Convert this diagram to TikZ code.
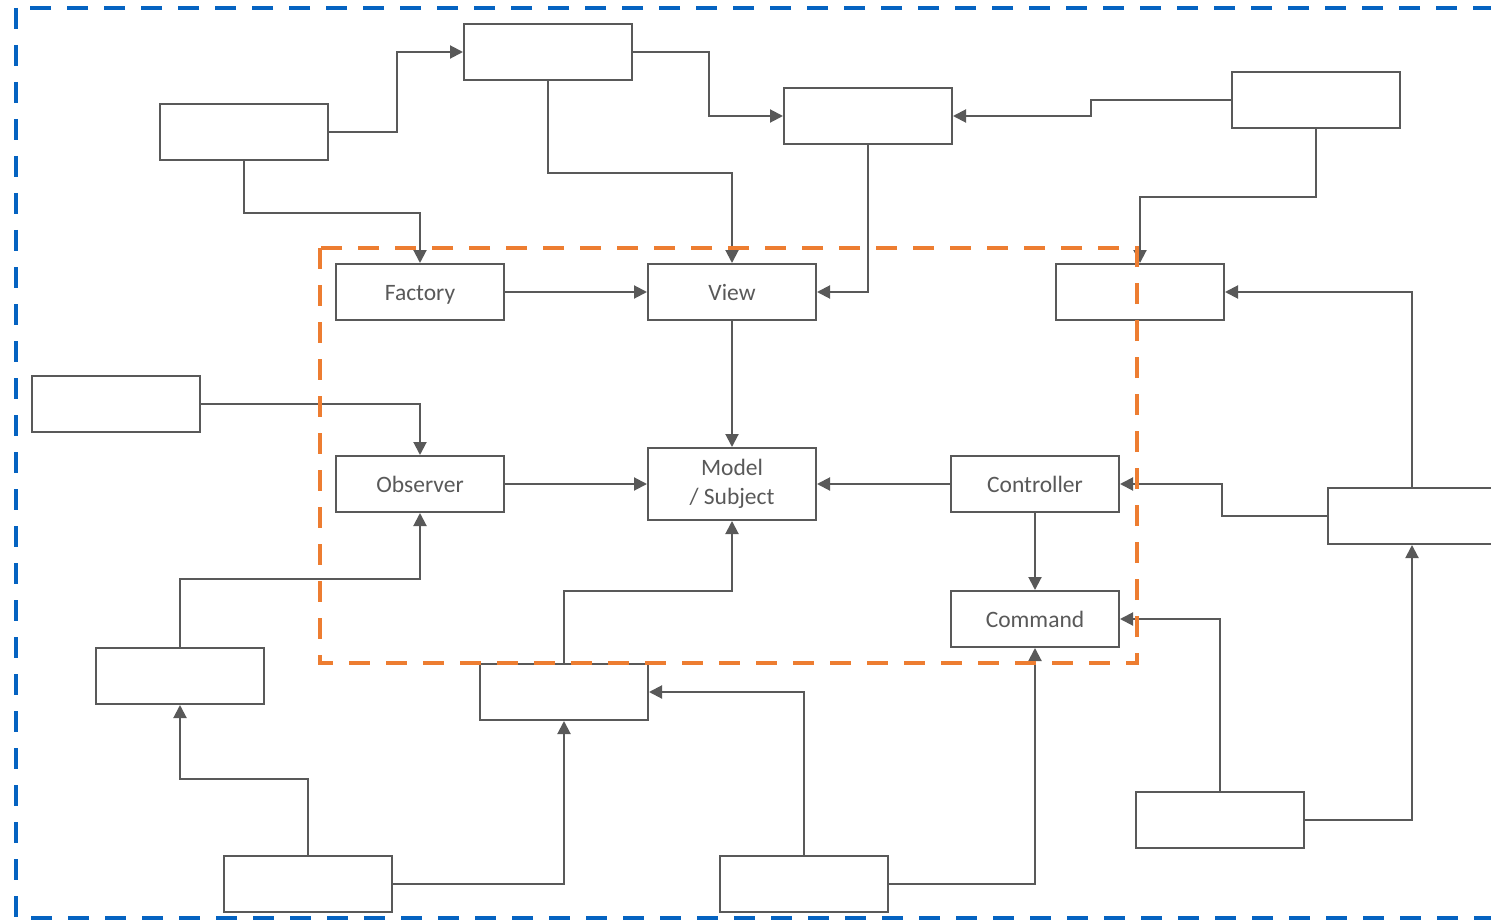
\documentclass[tikz,border=0pt]{standalone}
\usepackage{fontspec}
\setmainfont{Carlito}
\usetikzlibrary{arrows.meta}
\definecolor{ln}{HTML}{595959}
\definecolor{bl}{HTML}{0563C1}
\definecolor{og}{HTML}{ED7D31}
\tikzset{
  box/.style={draw=ln, line width=2pt, fill=white, minimum width=168pt, minimum height=56pt, inner sep=0pt, text=ln, font=\fontsize{23.5}{29}\selectfont, align=center},
  oneline/.style={box, text height=17pt, text depth=1pt},
  conn/.style={draw=ln, line width=2pt, -{Triangle[length=13pt,width=13pt]}},
  frame/.style={line width=4pt, dash pattern=on 21pt off 16pt}
}
\begin{document}
\begin{tikzpicture}[x=1pt,y=-1pt]
\useasboundingbox (0,0) rectangle (1491,920);
\node[box] (A) at (548,52) {};
\node[box] (B) at (244,132) {};
\node[box] (C) at (868,116) {};
\node[box] (D) at (1316,100) {};
\node[oneline] (Factory) at (420,292) {Factory};
\node[oneline] (View) at (732,292) {View};
\node[box] (E) at (1140,292) {};
\node[box] (F) at (116,404) {};
\node[oneline] (Observer) at (420,484) {Observer};
\node[box, minimum height=72pt] (Model) at (732,484) {Model\\/ Subject};
\node[oneline] (Controller) at (1035,484) {Controller};
\node[box] (G) at (1412,516) {};
\node[oneline] (Command) at (1035,619) {Command};
\node[box] (H) at (180,676) {};
\node[box] (I) at (564,692) {};
\node[box] (J) at (1220,820) {};
\node[box] (K) at (308,884) {};
\node[box] (L) at (804,884) {};

\draw[conn] (B.east) -- ++(68,0) |- (A.west);
\draw[conn] (A.east) -- ++(76,0) |- (C.west);
\draw[conn] (D.west) -- ++(-140,0) |- (C.east);
\draw[conn] (A.south) -- ++(0,92) -| (View.north);
\draw[conn] (B.south) -- ++(0,52) -| (Factory.north);
\draw[conn] (C.south) |- (View.east);
\draw[conn] (D.south) -- ++(0,68) -| (E.north);
\draw[conn] (Factory) -- (View);
\draw[conn] (View) -- (Model);
\draw[conn] (F.east) -| (Observer.north);
\draw[conn] (Observer) -- (Model);
\draw[conn] (Controller) -- (Model);
\draw[conn] (Controller) -- (Command);
\draw[conn] (G.west) -- ++(-105,0) |- (Controller.east);
\draw[conn] (G.north) |- (E.east);
\draw[conn] (H.north) -- ++(0,-68) -| (Observer.south);
\draw[conn] (I.north) -- ++(0,-72) -| (Model.south);
\draw[conn] (K.north) -- ++(0,-76) -| (H.south);
\draw[conn] (K.east) -| (I.south);
\draw[conn] (L.north) |- (I.east);
\draw[conn] (L.east) -| (Command.south);
\draw[conn] (J.north) |- (Command.east);
\draw[conn] (J.east) -| (G.south);

\draw[frame, draw=og] (320,248) rectangle (1137,663);
\draw[frame, draw=bl] (16,8) rectangle (1510,918);
\end{tikzpicture}
\end{document}
